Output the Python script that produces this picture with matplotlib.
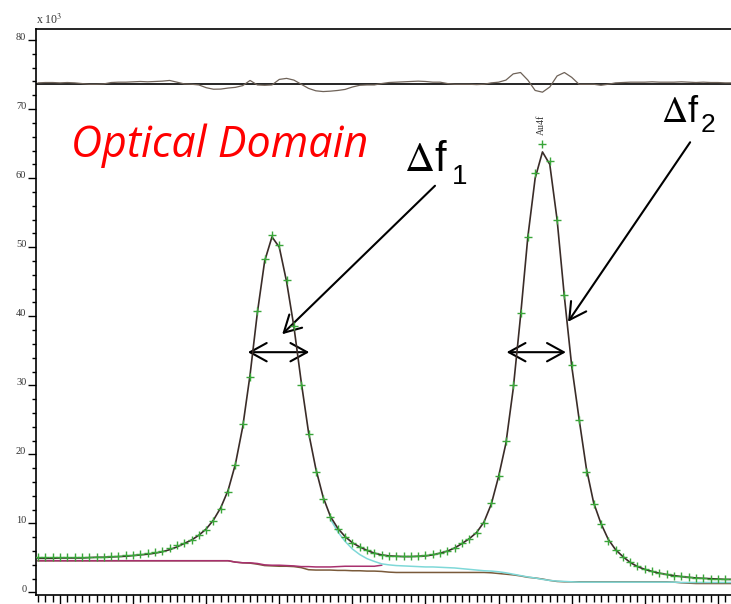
import numpy as np
import matplotlib.pyplot as plt

# binding energy grid (eV), 0.1 eV steps
energy = np.round(np.arange(913, 817, -1) / 10.0, 1)

counts = [5.1, 5.15, 5.1, 5.2, 5.15, 5.2, 5.15, 5.1, 5.1, 5.15,
          5.3, 5.35, 5.4, 5.45, 5.55, 5.7, 5.8, 6.0, 6.4, 6.9,
          7.2, 7.6, 8.3, 9.0, 10.3, 12.1, 14.5, 18.5, 24.4, 31.2,
          40.7, 48.3, 51.7, 50.3, 45.3, 38.6, 30.0, 22.9, 17.4, 13.5,
          10.9, 9.2, 8.0, 7.1, 6.6, 6.1, 5.75, 5.5, 5.35, 5.3,
          5.25, 5.25, 5.35, 5.4, 5.55, 5.75, 6.05, 6.45, 7.1, 7.8,
          8.6, 10.1, 13.0, 16.9, 22.0, 30.0, 40.5, 51.5, 60.7, 64.9,
          62.5, 54.0, 43.1, 33.0, 25.0, 17.5, 12.8, 9.9, 7.5, 6.1,
          5.2, 4.4, 3.8, 3.4, 3.1, 2.85, 2.65, 2.45, 2.35, 2.2,
          2.1, 2.05, 2.0, 1.95, 1.9, 1.9]

envelope = [4.95, 4.95, 4.95, 5.0, 5.0, 5.0, 5.0, 5.05, 5.1, 5.1,
            5.15, 5.2, 5.25, 5.35, 5.45, 5.55, 5.7, 5.9, 6.2, 6.6,
            7.1, 7.6, 8.3, 9.2, 10.5, 12.3, 14.8, 18.6, 24.0, 31.5,
            40.5, 48.0, 51.5, 50.0, 45.0, 38.5, 30.5, 23.2, 17.9, 13.8,
            11.0, 9.3, 8.1, 7.2, 6.6, 6.1, 5.7, 5.45, 5.3, 5.25,
            5.2, 5.2, 5.25, 5.3, 5.45, 5.7, 6.0, 6.45, 7.1, 7.8,
            8.7, 10.2, 12.8, 16.8, 21.6, 29.5, 40.0, 51.5, 60.0, 63.8,
            62.0, 54.0, 42.8, 32.8, 25.2, 18.0, 13.0, 10.0, 7.7, 6.2,
            5.2, 4.35, 3.75, 3.35, 3.05, 2.8, 2.6, 2.45, 2.3, 2.2,
            2.1, 2.05, 2.0, 1.95, 1.9, 1.9]

# peak 1 component + background, from 87.3 eV down
comp1 = [10.6, 8.8, 7.4, 6.3, 5.5, 4.9, 4.5, 4.15, 4.0, 3.9,
         3.85, 3.8, 3.75, 3.7, 3.7, 3.65, 3.6, 3.55, 3.45, 3.35,
         3.25, 3.15, 3.1, 3.0, 2.85, 2.65, 2.45, 2.25, 2.1, 1.9,
         1.75, 1.65, 1.6, 1.55, 1.5, 1.5, 1.5, 1.5, 1.5, 1.5,
         1.5, 1.5, 1.5, 1.5, 1.5, 1.5, 1.5, 1.5, 1.45, 1.45,
         1.45, 1.45, 1.45, 1.45, 1.45, 1.45]

# backgrounds
bg_shirley = [4.6] * 27 + [4.4, 4.3, 4.3, 4.2, 4.0, 3.95, 3.95, 3.9, 3.85, 3.75,
                           3.75, 3.7, 3.7, 3.7, 3.75, 3.8, 3.8, 3.8, 3.8, 3.8, 3.95]
bg_step = [4.6] * 27 + [4.4, 4.3, 4.25, 4.1, 3.9, 3.85, 3.8, 3.8, 3.75, 3.6,
                        3.3, 3.25, 3.25, 3.25, 3.2, 3.2, 3.15, 3.15, 3.1, 3.1,
                        3.05, 2.95, 2.9, 2.9, 2.9, 2.9, 2.9, 2.9, 2.9, 2.9,
                        2.9, 2.9, 2.9, 2.9, 2.9, 2.85, 2.75, 2.65, 2.55, 2.4,
                        2.2, 2.1, 1.95, 1.75, 1.6, 1.55, 1.55, 1.55, 1.55, 1.55,
                        1.55, 1.55, 1.55, 1.55, 1.55, 1.55, 1.55, 1.55, 1.55, 1.55,
                        1.5, 1.4, 1.35, 1.3, 1.3, 1.3, 1.3, 1.3, 1.3]

residual = [0.2, 0.25, 0.25, 0.2, 0.25, 0.2, 0.1, 0.0, 0.0, 0.05,
            0.25, 0.3, 0.3, 0.35, 0.4, 0.35, 0.4, 0.45, 0.55, 0.3,
            0.05, 0.0, -0.1, -0.5, -0.72, -0.7, -0.55, -0.45, -0.2, 0.55,
            -0.1, -0.15, -0.1, 0.7, 0.85, 0.6, 0.0, -0.6, -0.95, -1.06,
            -1.0, -0.9, -0.75, -0.4, -0.15, -0.1, -0.1, 0.1, 0.25, 0.3,
            0.35, 0.4, 0.45, 0.4, 0.3, 0.3, 0.1, 0.0, 0.0, 0.0,
            -0.05, 0.0, 0.2, 0.3, 0.6, 1.5, 1.7, 0.6, -0.9, -1.15,
            -0.4, 1.2, 1.7, 1.0, 0.0, 0.0, 0.0, -0.15, 0.0, 0.2,
            0.25, 0.3, 0.3, 0.3, 0.35, 0.3, 0.3, 0.3, 0.35, 0.3,
            0.25, 0.3, 0.25, 0.25, 0.2, 0.2]
res_base = 73.6

plt.rcParams['font.family'] = 'Liberation Serif'
plt.rcParams['mathtext.fontset'] = 'stix'

fig = plt.figure(figsize=(7.31, 6.04), dpi=100)
ax = fig.add_axes([36 / 731, 9.5 / 604, 1 - 36 / 731, 565.5 / 604])

ax.plot(energy, bg_step, color='#7a5a3a', lw=1.1)
ax.plot(energy[:len(bg_shirley)], bg_shirley, color='#a8306e', lw=1.1)
ax.plot(energy[40:], comp1, color='#7fd8d8', lw=1.1)
ax.plot(energy, envelope, color='#3a2c28', lw=1.2, zorder=4)
ax.plot(energy, counts, '+', color='#3aa63a', ms=6, mew=1.0, zorder=5)

# residual strip at top
ax.axhline(res_base, color='black', lw=1.2)
ax.plot(energy, res_base + np.array(residual), color='#6e6258', lw=0.9)

ax.set_xlim(91.328, 81.821)
ax.set_ylim(-0.29, 81.6)
ax.set_yticks(np.arange(0, 81, 10))
ax.set_yticks(np.arange(0, 81, 2), minor=True)
ax.set_xticks(np.arange(91, 81, -1))
ax.set_xticks(np.arange(91.3, 81.8, -0.1), minor=True)
ax.tick_params(axis='y', which='major', length=6, width=1, pad=1, labelsize=7.5, labelcolor='#333333')
ax.tick_params(axis='y', which='minor', length=3, width=1)
ax.tick_params(axis='x', which='major', length=9, width=1, labelbottom=False)
ax.tick_params(axis='x', which='minor', length=5, width=1)
for lab in ax.get_yticklabels():
    lab.set_verticalalignment('baseline')
ax.spines['right'].set_visible(False)
for s in ['left', 'bottom', 'top']:
    ax.spines[s].set_linewidth(1.2)

fig.text(36 / 731, 1 - 24 / 604, r'x 10$^3$', fontsize=8.5, va='baseline', color='#333333')

ax.text(84.41, 66.3, 'Au4f', rotation=90, fontsize=7, ha='center', va='bottom', color='#333333')

ax.text(88.81, 63.1, 'Optical Domain', color='red', style='italic', fontsize=31,
        family='Open Sans', ha='center', va='baseline')

ax.text(86.29, 61.0, r'$\Delta$f', fontsize=30, family='Liberation Sans', va='baseline')
ax.text(85.64, 59.2, '1', fontsize=20, family='Liberation Sans', va='baseline')
ax.text(82.78, 68.2, r'$\Delta$f', fontsize=26, family='Liberation Sans', va='baseline')
ax.text(82.23, 66.7, '2', fontsize=19, family='Liberation Sans', va='baseline')

head = dict(arrowstyle='->,head_length=1.0,head_width=0.55', lw=1.5, color='black',
            shrinkA=0, shrinkB=0, mutation_scale=12)
ax.annotate('', xy=(87.96, 37.4), xytext=(85.87, 58.9), arrowprops=head)
ax.annotate('', xy=(84.05, 39.2), xytext=(82.38, 65.2), arrowprops=head)
both = dict(head, arrowstyle='<->,head_length=1.0,head_width=0.55')
ax.annotate('', xy=(88.43, 34.8), xytext=(87.59, 34.8), arrowprops=both)
ax.annotate('', xy=(84.89, 34.8), xytext=(84.08, 34.8), arrowprops=both)

fig.savefig('out.png', dpi=100)
